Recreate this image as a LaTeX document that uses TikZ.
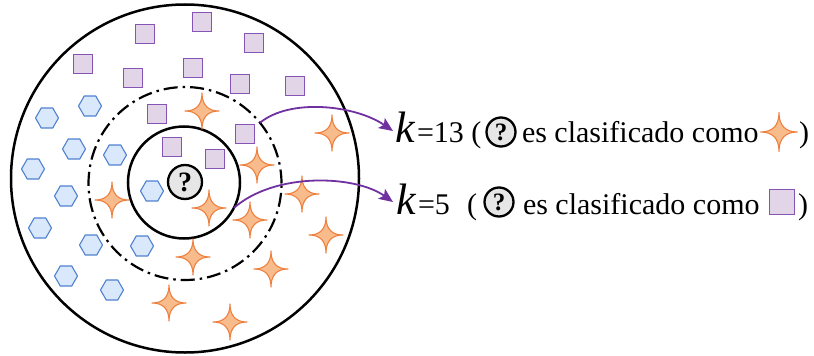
\documentclass[tikz,border=0pt]{standalone}
\usepackage{fontspec}
\setmainfont{Liberation Serif}
\usetikzlibrary{arrows.meta,shapes.geometric}
\definecolor{sqfill}{HTML}{E1D5E7}
\definecolor{sqdraw}{HTML}{8654B5}
\definecolor{hxfill}{HTML}{DAE8FC}
\definecolor{hxdraw}{HTML}{4F81D0}
\definecolor{stfill}{HTML}{F8BC8C}
\definecolor{stdraw}{HTML}{EE8040}
\definecolor{arrcol}{HTML}{7030A0}
\definecolor{qgray}{HTML}{E6E6E6}
\newcommand\sparkAt[3][1]{\draw[stst,shift={(#2,#3)},scale=#1] (0,-18) .. controls (0,-6) and (6,0) .. (17,0) .. controls (6,0) and (0,6) .. (0,18) .. controls (0,6) and (-6,0) .. (-17,0) .. controls (-6,0) and (0,-6) .. cycle;}
\tikzset{
  sqbox/.style={draw=sqdraw,fill=sqfill,line width=1.3pt,minimum size=19pt,inner sep=0pt,outer sep=0pt},
  hexbox/.style={regular polygon,regular polygon sides=6,draw=hxdraw,fill=hxfill,line width=1.1pt,minimum size=23pt,inner sep=0pt,outer sep=0pt},
  stst/.style={draw=stdraw,fill=stfill,line width=1.1pt,line join=round},
  ring/.style={circle,draw=black,line width=2.5pt,inner sep=0pt,outer sep=0pt},
  qbox/.style={circle,draw=black,fill=qgray,line width=2.3pt,inner sep=0pt,outer sep=0pt},
  txt/.style={anchor=base west,inner sep=0pt,outer sep=0pt,font=\fontsize{30}{36}\selectfont},
  kbox/.style={anchor=base west,inner sep=0pt,outer sep=0pt,font=\itshape\fontsize{44}{44}\selectfont},
  arr/.style={draw=arrcol,line width=1.8pt,-{Stealth[length=14pt,width=12pt,inset=3pt]}}
}
\begin{document}
\begin{tikzpicture}[x=1pt,y=-1pt]
\useasboundingbox (0,0) rectangle (814,356);
% rings
\node[ring,minimum size=348pt] (outer) at (185,178.5) {};
\node[circle,draw=black,line width=2.2pt,dash pattern=on 14pt off 5pt on 2.5pt off 5pt,minimum size=193pt,inner sep=0pt,outer sep=0pt] (mid) at (185,183.5) {};
\node[ring,minimum size=112pt] (inner) at (184,182.5) {};
% squares
\foreach \x/\y [count=\i] in {202/22,145/34,254/43,83/64,193/68,133/78,240/84,295/86,157/114,245/134,172/147,215/159}
  \node[sqbox] (sq\i) at (\x,\y) {};
% hexagons
\foreach \x/\y [count=\i] in {90/106,47/118,74/149,115/155,33/169,152/191,66/196,40/228,91/245,142/246,66/276,112/290}
  \node[hexbox] (hx\i) at (\x,\y) {};
% stars
\foreach \x/\y in {202/111,332/133,257/165,302/194,112/200,209/208,250/220,326/235,193/257,271/269,169/303,230/322}
  \sparkAt{\x}{\y};
% query
\node[qbox,minimum size=34pt,font=\bfseries\fontsize{28}{28}\selectfont] (q) at (185,182) {?};
% legend line 1
\node[kbox] (k1) at (395,142) {k};
\node[txt] (e1) at (417,142) {=13 (};
\node[qbox,minimum size=29pt,font=\bfseries\fontsize{25}{25}\selectfont] (q1) at (501,132) {?};
\node[txt] (c1) at (522,142) {es clasificado como};
\sparkAt[1.08]{779}{132}
\node[txt] (p1) at (799,142) {)};
% legend line 2
\node[kbox] (k2) at (396,214) {k};
\node[txt] (e2) at (418,214) {=5};
\node[txt] (o2) at (467,214) {(};
\node[qbox,minimum size=29pt,font=\bfseries\fontsize{25}{25}\selectfont] (q2) at (499,202) {?};
\node[txt] (c2) at (523,214) {es clasificado como};
\node[sqbox,minimum size=25pt] (sqk) at (782,202) {};
\node[txt] (p2) at (798,214) {)};
% arrows
\coordinate (t1) at (393,131);
\coordinate (t2) at (393,202);
\draw[arr] (mid.39) .. controls (290,98) and (355,105) .. (t1);
\draw[arr] (inner.-27.5) .. controls (275,172) and (355,175) .. (t2);
\end{tikzpicture}
\end{document}
